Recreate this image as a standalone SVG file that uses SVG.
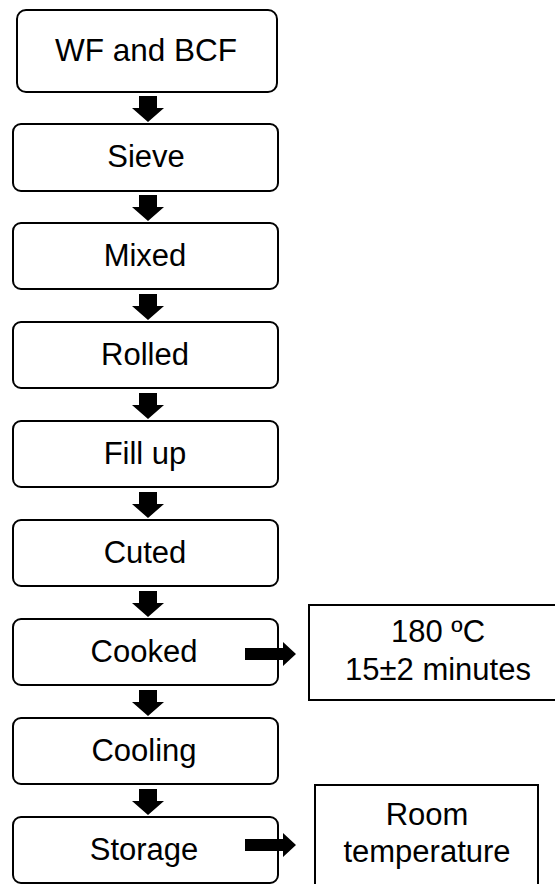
<svg xmlns="http://www.w3.org/2000/svg" width="555" height="884" viewBox="0 0 555 884">
<style>
.box{fill:#fff;stroke:#000;stroke-width:2}
.t{font-family:"Liberation Sans",Arial,sans-serif;font-size:31px;fill:#000;text-anchor:middle}
.arr{fill:#000}
</style>
<defs>
<path id="down" d="M-9,0 H9 V12 H16 L0,26 L-16,12 H-9 Z"/>
<path id="right" d="M0,-6 H38 V-12 L51,0 L38,12 V6 H0 Z"/>
</defs>
<rect x="0" y="0" width="555" height="884" fill="#fff"/>
<g id="n1"><rect class="box" x="17" y="10" width="260" height="82" rx="9"/><text class="t" x="146" y="61" style="font-size:31.5px">WF and BCF</text></g>
<g id="n2"><rect class="box" x="13" y="124" width="265" height="67" rx="8"/><text class="t" x="146" y="167">Sieve</text></g>
<g id="n3"><rect class="box" x="13" y="223" width="265" height="66" rx="8"/><text class="t" x="145" y="266">Mixed</text></g>
<g id="n4"><rect class="box" x="13" y="322" width="265" height="66" rx="8"/><text class="t" x="145" y="365">Rolled</text></g>
<g id="n5"><rect class="box" x="13" y="421" width="265" height="66" rx="8"/><text class="t" x="145" y="464">Fill up</text></g>
<g id="n6"><rect class="box" x="13" y="520" width="265" height="66" rx="8"/><text class="t" x="145" y="563">Cuted</text></g>
<g id="n7"><rect class="box" x="13" y="619" width="265" height="66" rx="8"/><text class="t" x="144" y="662">Cooked</text></g>
<g id="n8"><rect class="box" x="13" y="718" width="265" height="66" rx="8"/><text class="t" x="144" y="761">Cooling</text></g>
<g id="n9"><rect class="box" x="13" y="817" width="265" height="66" rx="8"/><text class="t" x="144" y="860">Storage</text></g>
<g id="n10"><rect class="box" x="309" y="605" width="260" height="95"/><text class="t" x="438" y="642">180 ºC</text><text class="t" x="438" y="680">15±2 minutes</text></g>
<g id="n11"><rect class="box" x="315" y="785" width="223" height="110"/><text class="t" x="427" y="825">Room</text><text class="t" x="427" y="862">temperature</text></g>
<g id="connectors" class="arr">
<use href="#down" x="148" y="96"/>
<use href="#down" x="148" y="195"/>
<use href="#down" x="148" y="294"/>
<use href="#down" x="148" y="393"/>
<use href="#down" x="148" y="492"/>
<use href="#down" x="148" y="591"/>
<use href="#down" x="148" y="690"/>
<use href="#down" x="148" y="789"/>
<use href="#right" x="245" y="654"/>
<use href="#right" x="245" y="845"/>
</g>
</svg>
